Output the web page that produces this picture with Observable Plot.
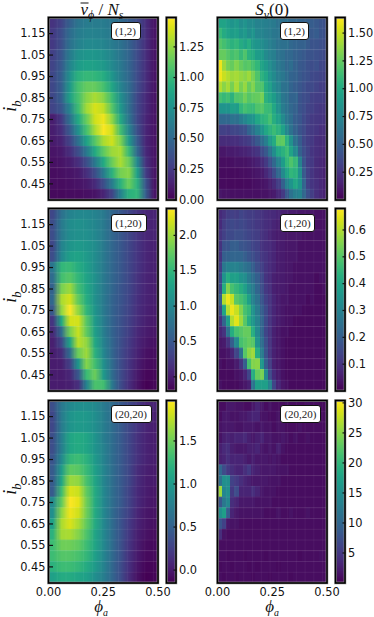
<!DOCTYPE html>
<html><head><meta charset="utf-8">
<script src="https://cdn.jsdelivr.net/npm/d3@7"></script>
<script src="https://cdn.jsdelivr.net/npm/@observablehq/plot@0.6"></script>
<style>
html,body{margin:0;background:#fff}
#c{position:relative;width:374px;height:617px;overflow:hidden}
#c>div,#c>svg{position:absolute}
.t{font-family:"Liberation Serif",serif;color:#111;white-space:nowrap;line-height:1}
.t sub{font-size:70%;line-height:0}
.box{background:#fff;border:1px solid #111;border-radius:3px;box-sizing:border-box;text-align:center;font-family:"Liberation Serif",serif;font-size:11px;color:#222;display:flex;align-items:center;justify-content:center}
</style></head><body><div id="c"></div>
<script>
const ib=[1.2,1.15,1.1,1.05,1,.95,.9,.85,.8,.75,.7,.65,.6,.55,.5,.45,.4];
const ibTicks=[.45,.55,.65,.75,.85,.95,1.05,1.15];
const phiTicks=[0,.25,.5];
const colEdges=[.04,.08,.12,.16,.2,.24,.28,.32,.36,.4,.44,.48];
const vBar12=[
[.22,.30,.45,.58,.62,.62,.62,.58,.52,.44,.34,.2,.08],
[.25,.35,.52,.62,.66,.66,.64,.6,.54,.44,.34,.2,.08],
[.25,.36,.55,.66,.7,.7,.68,.62,.56,.46,.34,.2,.08],
[.28,.4,.62,.75,.78,.78,.74,.68,.58,.48,.34,.2,.08],
[.3,.42,.68,.82,.86,.84,.8,.7,.6,.48,.34,.2,.08],
[.32,.45,.75,.95,1,.98,.92,.78,.62,.5,.34,.2,.08],
[.32,.45,.8,1.05,1.14,1.14,1.05,.88,.68,.52,.34,.2,.08],
[.32,.45,.85,1.05,1.22,1.3,1.22,1.02,.75,.54,.32,.18,.08],
[.3,.4,.68,1.02,1.28,1.4,1.34,1.1,.8,.54,.32,.18,.08],
[.12,.25,.55,.9,1.15,1.38,1.45,1.24,.9,.58,.32,.16,.08],
[.12,.2,.42,.75,1.05,1.3,1.48,1.38,1.04,.68,.36,.16,.08],
[.1,.15,.3,.55,.85,1.1,1.3,1.38,1.2,.8,.42,.16,.08],
[.08,.1,.2,.35,.6,.9,1.12,1.27,1.3,1,.5,.18,.08],
[.06,.08,.12,.2,.35,.6,.9,1.15,1.3,1.15,.7,.22,.08],
[.05,.06,.08,.1,.2,.35,.62,.95,1.18,1.22,.85,.28,.08],
[.05,.05,.06,.08,.1,.18,.35,.62,.95,1.15,.95,.4,.08],
[.04,.04,.05,.05,.06,.08,.15,.3,.65,.95,.98,.45,.08]];
const sv12=[
[.95,.95,.9,.85,.88,.8,.84,.78,.78,.72,.72,.7,.68,.67,.62,.6,.6,.55,.55,.52,.5,.5,.48,.45,.42,.4],
[1.1,1,.95,.9,.92,.85,.88,.8,.85,.75,.74,.7,.68,.65,.64,.6,.58,.55,.58,.52,.5,.48,.45,.47,.42,.4],
[1.2,1.15,1.1,1.05,1.08,1,.95,1.02,.88,.85,.8,.75,.7,.67,.62,.6,.6,.55,.52,.5,.5,.46,.42,.42,.4,.38],
[1.25,1.25,1.2,1.15,1.18,1.1,1.18,1.05,1,.9,.88,.78,.72,.7,.62,.6,.55,.55,.5,.48,.45,.42,.42,.4,.38,.36],
[1.6,1.4,1.3,1.25,1.32,1.25,1.2,1.22,1.15,1.08,.95,.88,.8,.74,.65,.62,.55,.58,.5,.45,.44,.4,.38,.4,.35,.34],
[1.6,1.5,1.45,1.4,1.42,1.38,1.35,1.4,1.3,1.18,1.05,.98,.85,.78,.68,.65,.58,.52,.5,.45,.42,.4,.36,.35,.33,.32],
[1.45,1.35,1.42,1.3,1.42,1.3,1.38,1.25,1.32,1.2,1.18,1,.92,.8,.72,.62,.6,.52,.48,.44,.4,.36,.37,.33,.3,.3],
[1.15,1.1,1.14,1.05,1.18,1.2,1.28,1.2,1.24,1.25,1.3,1.05,.98,.9,.78,.65,.6,.52,.52,.42,.38,.37,.32,.3,.3,.28],
[.85,.85,.85,.92,.9,1.08,1.15,1.12,1.1,1.18,1.2,1.12,1.1,.98,.82,.68,.62,.55,.5,.42,.38,.33,.32,.28,.26,.26],
[.55,.55,.55,.62,.6,.68,.75,.82,.85,.98,1.05,1.08,1.15,1.02,.92,.78,.65,.58,.48,.44,.36,.32,.28,.26,.25,.24],
[.32,.32,.3,.34,.35,.38,.4,.52,.6,.72,.85,.98,1.05,1.12,1.05,.93,.75,.62,.5,.42,.37,.3,.28,.25,.22,.22],
[.2,.2,.2,.22,.22,.25,.27,.3,.37,.45,.58,.7,.88,1,1.22,1.24,1.05,.82,.6,.47,.35,.3,.27,.22,.2,.2],
[.1,.1,.12,.12,.13,.15,.16,.18,.22,.25,.37,.45,.62,.8,.98,1.05,1.12,.95,.77,.5,.38,.32,.25,.22,.2,.18],
[.06,.06,.06,.07,.08,.08,.08,.1,.12,.15,.2,.28,.4,.55,.72,.9,1.08,1.18,1.1,.72,.42,.3,.27,.2,.18,.16],
[.05,.05,.05,.05,.05,.06,.06,.07,.08,.1,.12,.18,.25,.38,.55,.78,.95,1.08,1.05,.82,.45,.32,.25,.2,.18,.15],
[.05,.05,.04,.04,.04,.04,.05,.05,.06,.07,.08,.1,.14,.2,.3,.5,.72,.85,.97,.85,.52,.32,.25,.22,.18,.15],
[.1,.08,.08,.07,.07,.07,.07,.07,.07,.07,.08,.08,.1,.12,.18,.28,.45,.62,.7,.74,.55,.4,.3,.22,.18,.15]];
const vBar120=[
[.35,.75,.95,1,1,.95,.85,.65,.5,.35,.2,.08,.05],
[.4,.85,1.05,1.1,1.05,.98,.85,.65,.5,.35,.2,.08,.05],
[.4,.85,1.05,1.1,1.08,1,.85,.65,.5,.35,.2,.08,.05],
[.35,.95,1.15,1.2,1.15,1.05,.85,.65,.5,.35,.2,.08,.04],
[.4,1,1.25,1.3,1.2,1.05,.85,.65,.5,.35,.2,.08,.03],
[.8,1.5,1.55,1.4,1.25,1.05,.85,.65,.5,.35,.2,.08,.03],
[.7,1.6,1.7,1.5,1.3,1.1,.85,.65,.5,.35,.18,.06,.03],
[.6,1.85,2,1.6,1.35,1.1,.85,.65,.48,.35,.18,.06,.02],
[.65,2.05,2.2,1.75,1.4,1.1,.85,.62,.48,.33,.16,.05,.02],
[.5,1.95,2.38,1.95,1.5,1.15,.85,.62,.46,.32,.15,.04,0],
[.2,1.35,2.2,2.2,1.7,1.2,.88,.62,.45,.3,.14,.02,-.02],
[.1,.7,1.85,2.15,1.75,1.25,.9,.62,.44,.28,.1,0,-.05],
[.02,.35,1.3,2.1,1.95,1.35,.95,.65,.42,.25,.08,-.03,-.08],
[0,.12,.7,1.8,2,1.45,1,.65,.4,.22,.05,-.08,-.1],
[0,.02,.3,1.15,1.9,1.6,1.1,.7,.4,.2,.02,-.1,-.12],
[0,0,.08,.5,1.55,1.8,1.2,.72,.4,.18,-.02,-.15,-.15],
[0,0,.03,.15,.95,1.65,1.6,.85,.4,.15,-.05,-.2,-.15]];
const sv120=[
[.08,.1,.12,.13,.12,.14,.13,.12,.12,.11,.1,.09,.08,.08,.07,.06,.06,.05,.05,.04,.04,.04,.04,.03,.03,.03],
[.08,.12,.14,.15,.14,.15,.14,.13,.12,.11,.1,.09,.08,.07,.06,.05,.05,.05,.04,.04,.04,.03,.03,.03,.03,.03],
[.1,.13,.15,.15,.16,.16,.15,.14,.13,.12,.1,.09,.07,.06,.05,.05,.04,.04,.04,.04,.03,.03,.03,.03,.03,.03],
[.1,.17,.18,.2,.2,.18,.17,.16,.14,.13,.1,.09,.08,.07,.05,.05,.04,.04,.04,.03,.03,.03,.03,.03,.03,.03],
[.1,.2,.21,.22,.22,.22,.2,.18,.16,.14,.11,.1,.08,.07,.05,.05,.04,.04,.04,.03,.03,.03,.03,.03,.03,.03],
[.12,.27,.3,.3,.3,.28,.26,.24,.2,.16,.13,.1,.08,.07,.05,.05,.04,.04,.03,.03,.03,.03,.03,.03,.03,.03],
[.15,.35,.42,.38,.38,.35,.33,.28,.24,.2,.15,.1,.08,.06,.05,.05,.04,.04,.03,.03,.03,.03,.03,.02,.03,.03],
[.15,.42,.55,.48,.45,.42,.38,.32,.28,.22,.16,.11,.09,.06,.05,.05,.04,.03,.03,.03,.03,.03,.03,.02,.02,.03],
[.2,.6,.66,.62,.5,.48,.45,.38,.3,.25,.18,.13,.1,.07,.05,.04,.04,.03,.03,.03,.03,.02,.03,.02,.02,.02],
[.15,.4,.6,.66,.62,.55,.48,.45,.35,.28,.2,.15,.1,.07,.05,.04,.03,.03,.03,.03,.02,.02,.02,.02,.02,.02],
[.1,.22,.38,.6,.65,.58,.5,.42,.36,.3,.22,.15,.1,.07,.05,.04,.03,.03,.02,.02,.02,.02,.02,.02,.02,.02],
[.07,.1,.25,.42,.48,.5,.52,.52,.42,.32,.22,.14,.1,.06,.04,.03,.03,.02,.02,.02,.02,.02,.02,.02,.02,.02],
[.04,.05,.1,.2,.32,.48,.5,.52,.5,.35,.24,.16,.1,.06,.04,.03,.02,.02,.02,.02,.02,.02,.02,.02,.02,.02],
[.03,.03,.04,.07,.14,.25,.5,.56,.58,.42,.28,.17,.1,.06,.04,.03,.02,.02,.02,.02,.02,.02,.02,.02,.02,.02],
[.03,.02,.03,.03,.05,.1,.2,.48,.55,.56,.36,.2,.12,.06,.04,.03,.02,.02,.02,.02,.02,.02,.02,.02,.02,.02],
[.02,.02,.02,.02,.03,.04,.07,.14,.42,.52,.54,.32,.15,.08,.05,.03,.02,.02,.02,.02,.02,.02,.02,.02,.02,.02],
[.03,.02,.02,.02,.02,.03,.04,.06,.26,.38,.38,.38,.3,.14,.07,.04,.03,.02,.02,.02,.02,.02,.02,.02,.02,.02]];
const vBar2020=[
[.35,.7,.85,.9,.9,.85,.72,.6,.45,.32,.2,.08,.05],
[.3,.72,.95,1,.98,.9,.75,.6,.45,.32,.2,.08,.03],
[.3,.72,.95,1,.98,.9,.75,.6,.45,.3,.18,.06,.02],
[.35,.75,1.1,1.15,1.1,.95,.75,.6,.45,.3,.15,.05,.02],
[.35,.75,1.1,1.15,1.1,.95,.78,.6,.45,.3,.15,.05,.02],
[.4,.85,1.25,1.3,1.2,1,.8,.6,.45,.3,.15,.05,.02],
[.45,1,1.45,1.42,1.28,1.05,.82,.62,.45,.3,.12,.04,0],
[.45,1.1,1.65,1.62,1.35,1.1,.82,.62,.45,.3,.12,.02,0],
[.45,1.3,1.85,1.8,1.45,1.15,.85,.62,.45,.28,.1,.02,-.02],
[.85,1.45,1.97,1.88,1.5,1.15,.85,.62,.45,.28,.1,0,-.03],
[.9,1.6,1.92,1.82,1.5,1.15,.85,.6,.42,.26,.08,-.02,-.05],
[1.05,1.7,1.85,1.7,1.45,1.15,.85,.6,.4,.22,.06,-.03,-.06],
[1.2,1.68,1.7,1.58,1.38,1.1,.85,.6,.4,.2,.04,-.05,-.08],
[1.3,1.5,1.5,1.45,1.3,1.1,.85,.6,.38,.18,.02,-.08,-.1],
[1.3,1.4,1.4,1.35,1.25,1.05,.82,.58,.38,.16,0,-.1,-.1],
[1.2,1.3,1.3,1.25,1.15,1,.8,.56,.35,.14,-.02,-.12,-.12],
[1.05,1.15,1.15,1.1,1.05,.9,.75,.55,.35,.12,-.05,-.15,-.12]];
const sv2020=[
[1,1,2,2,1.5,1.5,1,1,2,3,2,1,1.5,1,1,1,1.5,1,1,1,1,1.5,1,1,.8,.8],
[1,2,2,1.5,1.5,2,2,2.5,3,3,1.5,1.5,1,1,1.5,1,1,1,1.5,1,1,1,1,1,1,1],
[1.5,2,2,2,1.5,1.5,2,2,2,1.5,2,1.5,1.5,1,1.5,1.5,1,1,1,1.5,1,1,1,1,1,1],
[1.5,2.5,3,2.5,3,3,3.5,2.5,2,2.5,3,2,2,1.5,1.5,2,1.5,1,1.5,1,1,1.5,1,1,1,1],
[2.5,3.5,4,2.5,2,2,2,2.5,2.5,3,2,1.5,2,1.5,2.5,1.5,1,1,1,1,1,1,1,1,1,1],
[2.5,3,4,3,3,3,2.5,2,2.5,2,2,2,1.5,2,1.5,1,1,1,1,1,1,1,1,1,1,1],
[10,7,5,4,3,3,4,5,3,2.5,2,2,2,2,1.5,1.5,1.5,1,1,1,1,1,1,1,1,1],
[11,15,15,6,5,4,3,2.5,2,2,2,2,1.5,1.5,1.5,1,1,1,1,1,1,1,1,1,1,1],
[26,14,15,5,7,3,3,3,4,3,2,1.5,1.5,1.5,1,1,1,1,1,1,1,1,1,1,1,1],
[8,12,14,4,3,2,2,2,2,1.5,1.5,1.5,1.5,1,1,1,1,1,1,1,1,1,1,1,1,1],
[15,17,9,3,2,1.5,1.5,1.5,1.5,1.5,1.5,1,1,1,1.5,1,1,1.5,1,1,1,1.5,1,1,1,1],
[8,6,2,1.5,1.5,1,1,1,1,1,1,1,1,1,1,1,1,1,1,1,1,1,1,1,1,1],
[4,1.5,1,1,1,1,1,1,1,1,1,1,1,1,1,1,1,1,1,1,1,1,1,1,1,1],
[1,1,1,1,1,1,1,1,1,1,1,1,1,1,1,1,1,1,1,1,1,1,1,1,1,1],
[1,1,.8,1,1,1,.8,1,1,1,1,.8,1,1,1,1,1,1,1,.8,1,1,1,1,1.2,1],
[.8,1,1,.8,1,1,1,.8,1,.8,1,1,1,1,.8,1,1,1,1,1,1,1,1,1,1,1],
[1,.8,1,1,.8,1,1,1,.8,1,1,1,.8,1,1,1,1,.8,1,1,1,1,1,1,1,1]];

const panels=[
{v:vBar12,dom:[0,1.49],ticks:[0,.25,.5,.75,1,1.25],fmt:".2f",lab:"(1,2)",col:0,row:0,bw:30},
{v:sv12,dom:[0,1.64],ticks:[.25,.5,.75,1,1.25,1.5],fmt:".2f",lab:"(1,2)",col:1,row:0,bw:29},
{v:vBar120,dom:[-.2,2.38],ticks:[0,.5,1,1.5,2],fmt:".1f",lab:"(1,20)",col:0,row:1,bw:36},
{v:sv120,dom:[0,.68],ticks:[.1,.2,.3,.4,.5,.6],fmt:".1f",lab:"(1,20)",col:1,row:1,bw:35},
{v:vBar2020,dom:[-.15,1.97],ticks:[0,.5,1,1.5],fmt:".1f",lab:"(20,20)",col:0,row:2,bw:41},
{v:sv2020,dom:[0,30.4],ticks:[5,10,15,20,25,30],fmt:"d",lab:"(20,20)",col:1,row:2,bw:41}];
const lefts=[47.5,217],tops=[16.5,208,399.5],barLefts=[166,335];
const W=109.5,H=182.5,BW=9.5,FS=11.4;
const c=document.getElementById("c");
function place(el,x,y){el.style.position="absolute";el.style.left=x+"px";el.style.top=y+"px";el.style.overflow="visible";el.style.background="transparent";c.appendChild(el)}
function txt(html,x,y,size,rot){const d=document.createElement("div");d.className="t";d.innerHTML=html;d.style.left=x+"px";d.style.top=y+"px";d.style.fontSize=size+"px";d.style.transform="translate(-50%,-50%)"+(rot?" rotate(-90deg)":"");c.appendChild(d)}
const frame=()=>[Plot.frame({stroke:"#999",strokeWidth:2.6}),Plot.frame({stroke:"#000",strokeWidth:1.6})];
const rowEdges=ib.slice(1).map(v=>v+.025);
for(const p of panels){
  const x0=lefts[p.col],y0=tops[p.row],bottom=p.row==2;
  const color={type:"linear",scheme:"viridis",domain:p.dom,clamp:true};
  const rend=p.col==1?"pixelated":"auto";
  const rows=p.v.map((r,i)=>Plot.raster(r,{width:r.length,height:1,x1:0,x2:.5,y1:ib[i]-.025,y2:ib[i]+.027,fill:d=>d,imageRendering:rend}));
  const svg=Plot.plot({width:W+40+15,height:H+2+(bottom?26:2),marginLeft:40,marginRight:15,marginTop:2,marginBottom:bottom?26:2,
    style:{fontFamily:"DejaVu Sans",fontSize:FS+"px",color:"#111"},
    x:{domain:[0,.5]},y:{domain:[.375,1.225]},color,
    marks:[...rows,
      Plot.ruleY(rowEdges,{stroke:"#fff",strokeOpacity:.07,strokeWidth:1}),
      Plot.ruleX(colEdges,{stroke:"#fff",strokeOpacity:.05,strokeWidth:1}),
      ...frame(),
      p.col==0?Plot.axisY(ibTicks,{anchor:"left",tickSize:-5,tickPadding:8,tickFormat:".2f",label:null,fontSize:FS,strokeWidth:1.2}):Plot.axisY({ticks:[],label:null}),
      bottom?Plot.axisX(phiTicks,{anchor:"bottom",tickSize:0,tickPadding:5,tickFormat:".2f",label:null,fontSize:FS}):Plot.axisX({ticks:[],label:null})]});
  place(svg,x0-40,y0-2);
  const levels=d3.range(256).map(i=>p.dom[1]-(p.dom[1]-p.dom[0])*(i+.5)/256);
  const bar=Plot.plot({width:BW+2+30,height:H+4,marginLeft:2,marginRight:30,marginTop:2,marginBottom:2,
    style:{fontFamily:"DejaVu Sans",fontSize:FS+"px",color:"#111"},
    x:{domain:[0,1],axis:null},y:{domain:p.dom},color,
    marks:[Plot.raster(levels,{width:1,height:256,x1:0,x2:1,y1:p.dom[1],y2:p.dom[0],fill:d=>d}),...frame(),
      Plot.axisY(p.ticks,{anchor:"right",tickSize:-3,tickPadding:6,tickFormat:d3.format(p.fmt),label:null,fontSize:FS,strokeWidth:1.2})]});
  place(bar,barLefts[p.col]-2,y0-2);
  const b=document.createElement("div");b.className="box";b.textContent=p.lab;
  b.style.cssText+=`left:${x0+63}px;top:${y0+5.5}px;width:${p.bw}px;height:18px`;c.appendChild(b);
}
txt('<span style="position:relative;font-style:italic">v<span style="position:absolute;left:0;right:0;top:3px;height:1px;background:#111"></span></span><i><sub>ϕ</sub></i> / <i>N<sub>s</sub></i>',102,8.5,17);
txt('<i>S<sub>v</sub></i>(0)',272,8.5,17);
for(const y of tops) txt('<i>i<sub>b</sub></i>',10,y+89,18,true);
const phiLabel='<i>ϕ<sub style="font-size:58%">a</sub></i>';
txt(phiLabel,101,606,17);
txt(phiLabel,272,606,17);
</script></body></html>
